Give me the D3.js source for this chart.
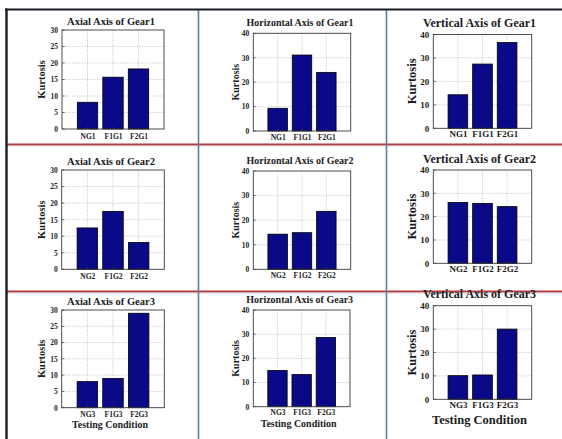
<!DOCTYPE html>
<html>
<head>
<meta charset="utf-8">
<script src="https://cdn.jsdelivr.net/npm/d3@7"></script>
<style>
  html, body { margin: 0; padding: 0; background: #fff; }
  svg { display: block; }
</style>
</head>
<body>
<svg id="fig" width="562" height="439"></svg>
<script>
// Kurtosis per gear (rows) and testing condition (NG, F1G, F2G)
const gearNames = ["Gear1", "Gear2", "Gear3"];
const gear1Conditions = ["NG1", "F1G1", "F2G1"];
const gear2Conditions = ["NG2", "F1G2", "F2G2"];
const gear3Conditions = ["NG3", "F1G3", "F2G3"];

const axialKurtosis      = [[8.1, 15.7, 18.2], [12.5, 17.5, 8.1], [8.0, 9.0, 29.0]];
const horizontalKurtosis = [[9.3, 31.1, 24.0], [14.3, 14.9, 23.6], [15.0, 13.3, 28.6]];
const verticalKurtosis   = [[14.3, 27.4, 36.6], [26.1, 25.7, 24.3], [10.1, 10.4, 30.0]];

const axialTicks = [0, 5, 10, 15, 20, 25, 30];
const horizontalTicks = [0, 10, 20, 30, 40];
const verticalTicks = [0, 10, 20, 30, 40];

const axisNames = ["Axial", "Horizontal", "Vertical"];
const yLabel = "Kurtosis";
const xLabel = "Testing Condition";

// ---- layout ----
const FONT = "'Liberation Serif', 'Times New Roman', Times, 'DejaVu Serif', serif";
const conditionsByGear = [gear1Conditions, gear2Conditions, gear3Conditions];
const valuesByAxis = [axialKurtosis, horizontalKurtosis, verticalKurtosis];
const ticksByAxis = [axialTicks, horizontalTicks, verticalTicks];

// plot frames [x0, y0, x1, y1] for each row / column
const frames = [
  [[62, 30, 164, 129], [253.3, 33.3, 350.7, 131], [433.3, 34.5, 531.7, 128.3]],
  [[61.7, 170, 164.3, 269.3], [253.3, 171, 350.7, 269.3], [433.3, 170, 531.7, 263.3]],
  [[61.7, 310, 164.3, 407.7], [253.3, 310, 350, 406.7], [433.3, 305.7, 531.7, 399.3]]
];
// per-column type sizes
const colStyle = [
  { title: 10.5, ylab: 10.5, tick: 7.5, xlab: 10, ylabX: 41, titleDy: -5.5, tickDy: 9.5 },
  { title: 10, ylab: 10, tick: 7.5, xlab: 10, ylabX: 235, titleDy: -7, tickDy: 8.8 },
  { title: 12, ylab: 12.5, tick: 9, xlab: 12.5, ylabX: 411.5, titleDy: -7.5, tickDy: 9 }
];
const xLabelBaseline = [427.5, 426.5, 423.5];

const svg = d3.select("#fig");

// panel separators
const sep = svg.append("g");
sep.append("line").attr("x1", 6).attr("x2", 562).attr("y1", 144.5).attr("y2", 144.5)
  .attr("stroke", "#b3393c").attr("stroke-width", 2);
sep.append("line").attr("x1", 6).attr("x2", 562).attr("y1", 146).attr("y2", 146)
  .attr("stroke", "#c9c9d0").attr("stroke-width", 0.8);
sep.append("line").attr("x1", 6).attr("x2", 562).attr("y1", 291.5).attr("y2", 291.5)
  .attr("stroke", "#b3393c").attr("stroke-width", 2);
sep.append("line").attr("x1", 6).attr("x2", 562).attr("y1", 293).attr("y2", 293)
  .attr("stroke", "#c9c9d0").attr("stroke-width", 0.8);
sep.append("line").attr("x1", 198.5).attr("x2", 198.5).attr("y1", 9).attr("y2", 439)
  .attr("stroke", "#5f7f9f").attr("stroke-width", 1.6);
sep.append("line").attr("x1", 386.5).attr("x2", 386.5).attr("y1", 9).attr("y2", 439)
  .attr("stroke", "#5f7f9f").attr("stroke-width", 1.6);
sep.append("line").attr("x1", 5).attr("x2", 562).attr("y1", 9.5).attr("y2", 9.5)
  .attr("stroke", "#1b1b28").attr("stroke-width", 2.2);
sep.append("line").attr("x1", 6.5).attr("x2", 6.5).attr("y1", 8.5).attr("y2", 439)
  .attr("stroke", "#1b1b28").attr("stroke-width", 2.4);

for (let r = 0; r < 3; r++) {
  for (let c = 0; c < 3; c++) {
    const [x0, y0, x1, y1] = frames[r][c];
    const st = colStyle[c];
    const values = valuesByAxis[c][r];
    const labels = conditionsByGear[r];
    const ticks = ticksByAxis[c];

    const x = d3.scaleLinear().domain([0, labels.length + 1]).range([x0, x1]);
    const y = d3.scaleLinear().domain([0, d3.max(ticks)]).range([y1, y0]);
    const g = svg.append("g");

    // grid
    g.selectAll(".hg").data(ticks.slice(1, -1)).join("line")
      .attr("x1", x0).attr("x2", x1).attr("y1", d => y(d)).attr("y2", d => y(d))
      .attr("stroke", "#a8a8a8").attr("stroke-width", 0.7).attr("stroke-dasharray", "1,1.5");
    g.selectAll(".vg").data(labels).join("line")
      .attr("x1", (d, i) => x(i + 1)).attr("x2", (d, i) => x(i + 1))
      .attr("y1", y0).attr("y2", y1)
      .attr("stroke", "#a8a8a8").attr("stroke-width", 0.7).attr("stroke-dasharray", "1,1.5");

    // bars
    const bw = x(0.8) - x(0);
    g.selectAll("rect.bar").data(values).join("rect")
      .attr("x", (d, i) => x(i + 1) - bw / 2)
      .attr("width", bw)
      .attr("y", d => y(d))
      .attr("height", d => y(0) - y(d))
      .attr("fill", "#0a0a88").attr("stroke", "#000").attr("stroke-width", 0.8);

    // frame
    g.append("rect").attr("x", x0).attr("y", y0).attr("width", x1 - x0).attr("height", y1 - y0)
      .attr("fill", "none").attr("stroke", "#3a3a3a").attr("stroke-width", 0.9);

    // y axis tick labels
    const yAxis = d3.axisLeft(y).tickValues(ticks).tickSize(0).tickPadding(4);
    const ya = g.append("g").attr("transform", `translate(${x0},0)`).call(yAxis)
      .attr("font-family", FONT).attr("font-weight", "bold").attr("font-size", st.tick);
    ya.select(".domain").remove();
    ya.selectAll("text").attr("fill", "#1c1c1c");

    // x axis tick labels
    const xAxis = d3.axisBottom(x).tickValues(labels.map((d, i) => i + 1))
      .tickFormat((d, i) => labels[i]).tickSize(0).tickPadding(0);
    const xa = g.append("g").attr("transform", `translate(0,${y1})`).call(xAxis)
      .attr("font-family", FONT).attr("font-weight", "bold").attr("font-size", st.tick);
    xa.select(".domain").remove();
    xa.selectAll("text").attr("dy", null).attr("y", st.tickDy).attr("fill", "#1c1c1c");

    // inward tick marks
    g.selectAll(".yt").data(ticks).join("line")
      .attr("x1", x0).attr("x2", x0 + 2.5).attr("y1", d => y(d)).attr("y2", d => y(d))
      .attr("stroke", "#3a3a3a").attr("stroke-width", 0.7);
    g.selectAll(".xt").data(labels).join("line")
      .attr("x1", (d, i) => x(i + 1)).attr("x2", (d, i) => x(i + 1))
      .attr("y1", y1).attr("y2", y1 - 2.5)
      .attr("stroke", "#3a3a3a").attr("stroke-width", 0.7);

    // title
    g.append("text").attr("x", (x0 + x1) / 2 + (c === 2 ? -3 : -2)).attr("y", y0 + st.titleDy)
      .attr("text-anchor", "middle").attr("font-size", st.title)
      .attr("font-family", FONT).attr("font-weight", "bold").attr("fill", "#1c1c1c")
      .text(`${axisNames[c]} Axis of ${gearNames[r]}`);

    // y label
    g.append("text")
      .attr("transform", `translate(${st.ylabX},${(y0 + y1) / 2}) rotate(-90)`)
      .attr("text-anchor", "middle").attr("dominant-baseline", "central")
      .attr("font-family", FONT).attr("font-weight", "bold").attr("fill", "#1c1c1c")
      .attr("font-size", st.ylab).text(yLabel);

    // x label on the bottom row
    if (r === 2) {
      g.append("text").attr("x", (x0 + x1) / 2 - 3).attr("y", xLabelBaseline[c])
        .attr("text-anchor", "middle").attr("font-size", st.xlab)
        .attr("font-family", FONT).attr("font-weight", "bold").attr("fill", "#1c1c1c")
        .text(xLabel);
    }
  }
}
</script>
</body>
</html>
